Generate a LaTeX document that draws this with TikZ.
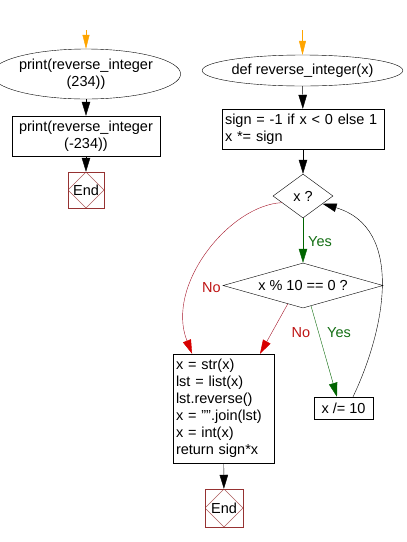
\documentclass[tikz,border=0pt]{standalone}
\usepackage{fontspec}
\setmainfont{Liberation Sans}
\usetikzlibrary{shapes.geometric,arrows.meta,calc}
\definecolor{orng}{RGB}{255,165,0}
\definecolor{noline}{RGB}{165,20,40}
\definecolor{nohead}{RGB}{215,0,0}
\definecolor{notext}{RGB}{190,20,20}
\definecolor{yesline}{RGB}{0,100,0}
\definecolor{yestext}{RGB}{20,110,20}
\definecolor{endc}{RGB}{150,50,50}
\tikzset{
  every node/.style={font=\fontsize{14.5}{17}\selectfont, inner sep=0pt},
  term/.style={ellipse, draw, align=center},
  proc/.style={rectangle, draw, align=center},
  procl/.style={rectangle, draw, align=left, text width=#1, inner xsep=3pt},
  dec/.style={diamond, draw, shape aspect=#1},
  endbox/.style={rectangle, draw=endc, minimum size=#1,
    path picture={\draw[endc!80] (path picture bounding box.north) -- (path picture bounding box.east)
      -- (path picture bounding box.south) -- (path picture bounding box.west) -- cycle;}},
  flow/.style={draw=black, -{Triangle[length=14pt,width=8.5pt]}},
  startarr/.style={draw=orng, -{Triangle[length=14pt,width=7pt]}},
  noarr/.style={draw=noline, -{Triangle[length=14pt,width=8.5pt,color=nohead]}},
  yesarr/.style={draw=yesline, -{Triangle[length=14pt,width=8.5pt]}},
  nolab/.style={text=notext},
  yeslab/.style={text=yestext},
}
\begin{document}
\begin{tikzpicture}[x=1pt,y=-1pt]
\useasboundingbox (0,0) rectangle (407,542);
% left column
\coordinate (s1) at (86,30);
\node[term, minimum width=161pt, minimum height=50pt] (start1) at (86,74) {print(reverse\_integer\\(234))};
\node[proc, minimum width=148pt, minimum height=40pt] (p2) at (86,136) {print(reverse\_integer\\(-234))};
\node[endbox=36pt] (end1) at (86,190) {End};
\draw[startarr] (s1) -- (start1.north);
\draw[flow] (start1) -- (p2);
\draw[flow] (p2) -- (end1);
% right column
\coordinate (s2) at (302.5,30);
\node[term, minimum width=161pt, minimum height=31pt] (start2) at (302.5,70.5) {def reverse\_integer(x)};
\node[procl=156pt, minimum height=40pt] (init) at (303,129) {sign = -1 if x {\textless} 0 else 1\\x *= sign};
\node[dec=1.36, minimum width=60pt, minimum height=44pt] (d1) at (303,196) {x ?};
\node[dec=3.55, minimum width=160pt, minimum height=45pt] (d2) at (303,285.5) {x \% 10 == 0 ?};
\node[procl=95pt, minimum height=109pt] (body) at (223.5,408.5) {x = str(x)\\lst = list(x)\\lst.reverse()\\x = "".join(lst)\\x = int(x)\\return sign*x};
\node[proc, minimum width=59pt, minimum height=22pt] (xdiv) at (343.5,408) {x /= 10};
\node[endbox=38pt] (end2) at (224,508) {End};
\draw[startarr] (s2) -- (start2.north);
\draw[flow] (start2) -- (init);
\draw[flow] (init) -- (d1);
\draw[yesarr] (d1.south) -- (d2.north);
\node[yeslab, anchor=west] (ylab1) at (308,242) {Yes};
\draw[noarr] ($(d1.west)!0.3!(d1.south)$) .. controls (230,205) and (165,285) .. ($(body.north west)!0.19!(body.north east)$);
\node[nolab] (nlab1) at (211.5,288) {No};
\draw[noarr] ($(d2.west)!0.81!(d2.south)$) -- ($(body.north west)!0.86!(body.north east)$);
\node[nolab] (nlab2) at (301,333) {No};
\draw[yesarr] ($(d2.south)!0.1!(d2.east)$) -- ($(xdiv.north west)!0.39!(xdiv.north east)$);
\node[yeslab] (ylab2) at (339,333) {Yes};
\draw[flow] ($(xdiv.north west)!0.66!(xdiv.north east)$) .. controls (385,330) and (405,228) .. ($(d1.east)!0.35!(d1.south)$);
\draw[flow] (body) -- (end2);
\end{tikzpicture}
\end{document}
